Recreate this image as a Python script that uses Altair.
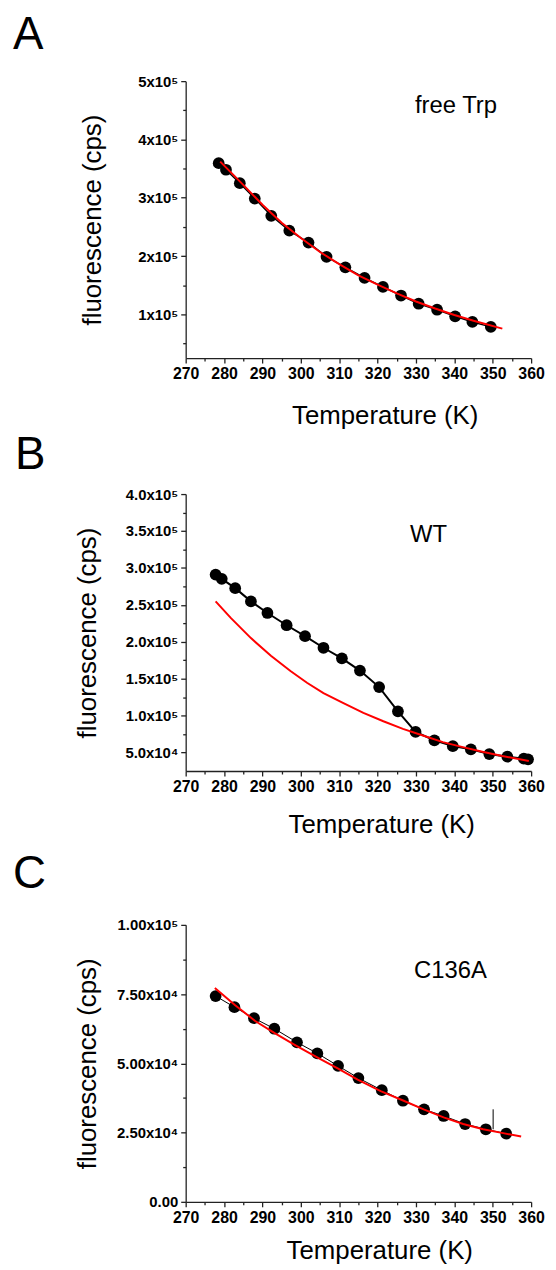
import altair as alt
import pandas as pd

# ---------------- data ----------------
# Panel A : free Trp
A_T = [278.6, 280.5, 284.1, 288.0, 292.3, 297.0, 302.0, 306.7, 311.6, 316.6,
       321.4, 326.1, 330.7, 335.5, 340.2, 344.7, 349.5]
A_F = [359300, 348000, 325000, 298600, 269000, 243500, 223100, 198700, 180600, 162400,
       147100, 132300, 118200, 107900, 96600, 87000, 78500]
A_FIT_T = [279.0, 285, 290, 295, 300, 305, 310, 315, 320, 325, 330, 335, 340, 345, 352.5]
A_FIT_F = [362000, 322000, 288000, 257000, 231000, 207000, 186000, 167000, 151000,
           136000, 122000, 110000, 99000, 89000, 75500]

# Panel B : WT
B_T = [277.8, 279.4, 282.9, 287.0, 291.3, 296.3, 301.1, 305.9, 310.7, 315.4,
       320.4, 325.3, 329.9, 334.8, 339.6, 344.3, 349.1, 353.8, 358.1, 359.2]
B_F = [291000, 285200, 272600, 254700, 239000, 222400, 207600, 191900, 177600, 161000,
       138600, 105800, 78000, 66400, 58700, 54300, 48000, 44400, 41700, 40800]
B_FIT_T = [277.8, 281.8, 287.0, 292.2, 297.3, 301.6, 305.9, 311.1, 316.3, 321.5,
           326.6, 331.8, 337.0, 342.2, 347.3, 352.5, 359.4]
B_FIT_F = [254700, 232000, 205000, 181000, 160500, 144500, 130500, 117000, 103600, 92400,
           82100, 73100, 64100, 57400, 51100, 45300, 38600]

# Panel C : C136A
C_T = [277.8, 282.7, 287.8, 293.1, 299.0, 304.3, 309.7, 315.0, 321.1, 326.6,
       332.1, 337.2, 342.8, 348.2, 353.5]
C_F = [74300, 70300, 66300, 62500, 57600, 53600, 49100, 44700, 40300, 36500,
       33400, 31000, 28100, 26200, 24600]
C_FIT_T = [277.6, 282.9, 288.1, 293.3, 298.4, 304.5, 309.6, 314.8, 320.8, 326.8,
           332.0, 337.2, 342.3, 347.5, 352.7, 357.4]
C_FIT_F = [77200, 71000, 65300, 60800, 56700, 52000, 48200, 44100, 40000, 36500,
           33400, 30500, 28100, 26200, 24800, 23600]
C_MARK_T = [350.1]
C_MARK_LO = [26200]
C_MARK_HI = [33400]

X_TICKS = list(range(270, 361, 5))
A_Y_TICKS = list(range(50000, 500001, 50000))
B_Y_TICKS = list(range(50000, 400001, 25000))
C_Y_TICKS = list(range(0, 100001, 12500))

W, H = 348, 279
FONT = "Liberation Sans"
SUP4, SUP5 = "\u2074", "\u2075"


def panel(T, F, FT, FF, ydom, yticks, ylabel_expr, major_test,
          xtitle_x, xtitle_y, ytitle_x, letter, letter_x, letter_y,
          note, note_x, note_y, line_w, extra=None, spacer_y=None):
    pts = pd.DataFrame({"T": T, "F": F})
    fit = pd.DataFrame({"T": FT, "F": FF})
    x = alt.X("T:Q",
              scale=alt.Scale(domain=[270, 360], nice=False, zero=False),
              axis=alt.Axis(values=X_TICKS,
                            labelExpr="datum.value % 10 == 0 ? datum.label : ''",
                            tickSize={"condition": {"test": "datum.value % 10 == 0", "value": 5}, "value": 3},
                            labelFontSize=16, labelPadding=3, labelFlush=False, labelOverlap=False,
                            title="Temperature (K)", titleX=xtitle_x, titleY=xtitle_y,
                            titleBaseline="alphabetic", titleAlign="center"))
    y = alt.Y("F:Q",
              scale=alt.Scale(domain=ydom, nice=False, zero=False),
              axis=alt.Axis(values=yticks, labelExpr=ylabel_expr,
                            tickSize={"condition": {"test": major_test, "value": 5}, "value": 3},
                            labelFontSize=15, labelPadding=3, labelFlush=False, labelOverlap=False,
                            title="fluorescence (cps)", titleAngle=270, titleX=ytitle_x, titleY=H / 2,
                            titleBaseline="top", titleAlign="center"))
    layers = [
        alt.Chart(pts).mark_line(color="black", strokeWidth=line_w).encode(x=x, y=y),
        alt.Chart(pts).mark_circle(color="black", size=140, opacity=1).encode(x=x, y=y),
        alt.Chart(fit).mark_line(color="#ff0000", strokeWidth=2).encode(x=x, y=y),
    ]
    if extra is not None:
        layers.append(alt.Chart(extra).mark_rule(color="black", strokeWidth=1).encode(
            x=x, y=y, y2="F2:Q"))
    layers.append(alt.Chart(pd.DataFrame({"t": [note]})).mark_text(
        font=FONT, fontSize=24, align="left", baseline="alphabetic", color="black").encode(
        x=alt.value(note_x), y=alt.value(note_y), text="t:N"))
    layers.append(alt.Chart(pd.DataFrame({"t": [letter]})).mark_text(
        font=FONT, fontSize=46, align="left", baseline="alphabetic", color="black").encode(
        x=alt.value(letter_x), y=alt.value(letter_y), text="t:N"))
    if spacer_y is not None:
        layers.append(alt.Chart(pd.DataFrame({"t": [letter]})).mark_text(
            font=FONT, fontSize=46, align="left", baseline="alphabetic", opacity=0).encode(
            x=alt.value(letter_x), y=alt.value(spacer_y), text="t:N"))
    return alt.layer(*layers).properties(width=W, height=H)


A_label = "datum.value % 100000 == 0 ? (datum.value / 100000) + 'x10" + SUP5 + "' : ''"
B_label = ("datum.value % 50000 != 0 ? '' : (datum.value < 100000 ? format(datum.value / 10000, '.1f') + 'x10"
           + SUP4 + "' : format(datum.value / 100000, '.1f') + 'x10" + SUP5 + "')")
C_label = ("datum.value % 25000 != 0 ? '' : (datum.value == 0 ? '0.00' : (datum.value < 100000 ? "
           "format(datum.value / 10000, '.2f') + 'x10" + SUP4 + "' : format(datum.value / 100000, '.2f') + 'x10"
           + SUP5 + "'))")

pA = panel(A_T, A_F, A_FIT_T, A_FIT_F, [25000, 500000], A_Y_TICKS, A_label,
           "datum.value % 100000 == 0", 200.5, 65.5, -107, "A", -174, -32,
           "free Trp", 231, 32, 1.5)
pB = panel(B_T, B_F, B_FIT_T, B_FIT_F, [25000, 400000], B_Y_TICKS, B_label,
           "datum.value % 50000 == 0", 197, 61.6, -112, "B", -172, -25,
           "WT", 226, 48, 2)
mark_df = pd.DataFrame({"T": C_MARK_T, "F": C_MARK_LO, "F2": C_MARK_HI})
pC = panel(C_T, C_F, C_FIT_T, C_FIT_F, [0, 100000], C_Y_TICKS, C_label,
           "datum.value % 25000 == 0", 195, 57.3, -112, "C", -174, -37,
           "C136A", 230, 54, 1, extra=mark_df, spacer_y=-47)

chart = alt.vconcat(pA, pB, pC, spacing=4).properties(
    padding={"left": 5, "top": 0, "right": 3, "bottom": 0}
).configure_view(stroke=None).configure_axis(
    grid=False, domainColor="#222222", tickColor="#222222", domainWidth=1.3, tickWidth=1.3,
    labelFont=FONT, labelFontWeight="bold", labelColor="black",
    titleFont=FONT, titleFontWeight="normal", titleColor="black", titleFontSize=26)

chart.save("out.html", embed_options={"renderer": "svg", "actions": False})
